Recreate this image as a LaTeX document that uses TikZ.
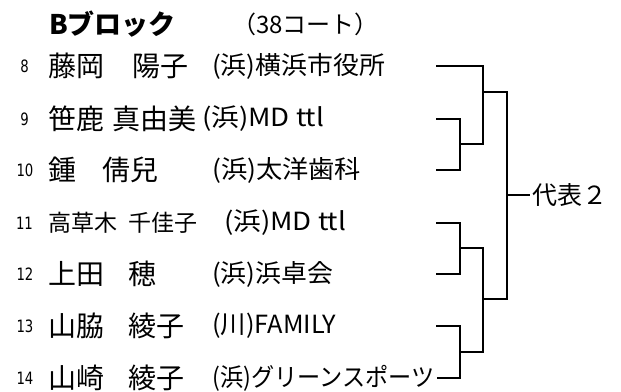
\documentclass[tikz,border=0pt]{standalone}
\usepackage{fontspec}
\usepackage{graphicx}
\newfontfamily\jp{Noto Sans CJK JP}
\newfontfamily\numf{DejaVu Sans}
\newcommand\fitw[2]{\resizebox{#1}{\height}{#2}}
\newcommand\narrowdigits[1]{\scalebox{0.78}[1]{#1}}
\begin{document}
\begin{tikzpicture}[x=1pt,y=-1pt,
  numlabel/.style={anchor=center, inner sep=0pt, font=\numf\fontsize{17}{19}\selectfont},
  namelabel/.style={anchor=west, inner sep=0pt, font=\jp\fontsize{28}{30}\selectfont},
  smallname/.style={anchor=west, inner sep=0pt, font=\jp\fontsize{23}{26}\selectfont},
  clublabel/.style={anchor=west, inner sep=0pt, font=\jp\fontsize{25}{28}\selectfont},
  bracket/.style={draw=black, line width=1.6pt}]
\useasboundingbox (0,0) rectangle (621,391);
\fill[white] (0,0) rectangle (621,391);
% title
\node[anchor=west, inner sep=0pt, font=\jp\bfseries\fontsize{27}{29}\selectfont] (title) at (49,24) {Bブロック};
\node[anchor=west, inner sep=0pt, font=\jp\fontsize{24}{26}\selectfont] (court) at (232,24) {（38コート）};
% rows
\node[numlabel] (n8) at (24.5,66) {\narrowdigits{8}};
\node[namelabel] (a8) at (48,66) {藤岡\hspace{1em}陽子};
\node[clublabel] (c8) at (212,66) {\fitw{173pt}{(浜)横浜市役所}};
\node[numlabel] (n9) at (24.5,119) {\narrowdigits{9}};
\node[namelabel] (a9) at (48,119) {笹鹿\hspace{0.3em}真由美};
\node[clublabel] (c9) at (202,119) {\fitw{122pt}{(浜)MD ttl}};
\node[numlabel] (n10) at (25,170) {\narrowdigits{10}};
\node[namelabel] (a10) at (48,170) {鍾\hspace{0.95em}倩兒};
\node[clublabel] (c10) at (212,170) {\fitw{149pt}{(浜)太洋歯科}};
\node[numlabel] (n11) at (24.5,223) {\narrowdigits{11}};
\node[smallname] (a11) at (48,223) {高草木\hspace{0.48em}千佳子};
\node[clublabel] (c11) at (224,223) {\fitw{122pt}{(浜)MD ttl}};
\node[numlabel] (n12) at (25,274) {\narrowdigits{12}};
\node[namelabel] (a12) at (48,274) {上田\hspace{0.85em}穂};
\node[clublabel] (c12) at (212,274) {\fitw{121pt}{(浜)浜卓会}};
\node[numlabel] (n13) at (25,326) {\narrowdigits{13}};
\node[namelabel] (a13) at (48,326) {山脇\hspace{0.85em}綾子};
\node[clublabel] (c13) at (212,326) {\fitw{124pt}{(川)FAMILY}};
\node[numlabel] (n14) at (25,378) {\narrowdigits{14}};
\node[namelabel] (a14) at (48,378) {山崎\hspace{0.85em}綾子};
\node[clublabel] (c14) at (212,378) {\fitw{222pt}{(浜)グリーンスポーツ}};
% winner
\node[anchor=west, inner xsep=2pt, inner ysep=0pt, font=\jp\fontsize{25}{27}\selectfont] (win) at (530,195) {代表２};
% bracket coordinates
\coordinate (s8) at (436,66);
\coordinate (s9) at (436,119);
\coordinate (s10) at (436,170);
\coordinate (s11) at (436,223);
\coordinate (s12) at (436,274);
\coordinate (s13) at (436,326);
\coordinate (s14) at (437,378);
\coordinate (m910) at (460,144);
\coordinate (m1112) at (460,248);
\coordinate (m1314) at (460,352);
\coordinate (r1) at (483,92);
\coordinate (r2) at (483,299);
\coordinate (f) at (507,195);
% bracket lines
\draw[bracket] (s9) -| (m910) |- (s10);
\draw[bracket] (s8) -| (r1) |- (m910);
\draw[bracket] (s11) -| (m1112) |- (s12);
\draw[bracket] (s13) -| (m1314) |- (s14);
\draw[bracket] (m1112) -| (r2) |- (m1314);
\draw[bracket] (r1) -| (f) |- (r2);
\draw[bracket] (f) -- (win.west);
\end{tikzpicture}
\end{document}
